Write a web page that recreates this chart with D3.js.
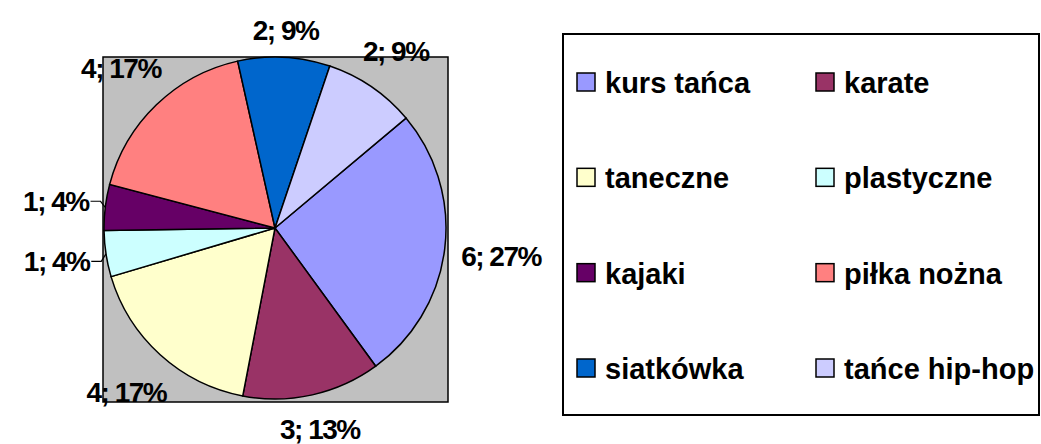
<!DOCTYPE html>
<head>
<meta charset="utf-8">
<script src="https://d3js.org/d3.v7.min.js"></script>
<style>
body { margin: 0; background: #fff; }
text { font-family: "Liberation Sans", Arial, sans-serif; font-weight: bold; fill: #000; }
.lbl { font-size: 28px; letter-spacing: -1.5px; }
.leg text { font-size: 29px; }
</style>
</head>
<body>
<script>
// chart data
var categories = ["kurs tańca", "karate", "taneczne", "plastyczne", "kajaki", "piłka nożna", "siatkówka", "tańce hip-hop"];
var values = [6, 3, 4, 1, 1, 4, 2, 2];
var percents = ["27%", "13%", "17%", "4%", "4%", "17%", "9%", "9%"];
var colors = ["#9999ff", "#993366", "#ffffcc", "#ccffff", "#660066", "#ff8080", "#0066cc", "#ccccff"];

var W = 1041, H = 444;
var svg = d3.select("body").append("svg").attr("width", W).attr("height", H);

// plot area
var cx = 275, cy = 228, r = 171;
svg.append("rect")
  .attr("x", cx - r - 1).attr("y", 57)
  .attr("width", 2 * r + 3).attr("height", 345)
  .attr("fill", "#c0c0c0").attr("stroke", "#000").attr("stroke-width", 1.5);

var data = categories.map(function(c, i){ return {name: c, value: values[i], pct: percents[i], color: colors[i]}; });

var start = 50 * Math.PI / 180;
var pie = d3.pie().sort(null).value(function(d){ return d.value; })
  .startAngle(start).endAngle(start + 2 * Math.PI);
var arcs = pie(data);

var arc = d3.arc().innerRadius(0).outerRadius(r);

var g = svg.append("g").attr("transform", "translate(" + cx + "," + cy + ")");

g.selectAll("path.slice").data(arcs).enter().append("path")
  .attr("class", "slice")
  .attr("d", arc)
  .attr("fill", function(d){ return d.data.color; })
  .attr("stroke", "#000").attr("stroke-width", 1.5);

// labels placed outside the end of each slice
var gap = 15;
var labels = g.selectAll("text.lbl").data(arcs).enter().append("text")
  .attr("class", "lbl")
  .attr("text-anchor", "middle")
  .attr("dy", "0.36em")
  .text(function(d){ return d.data.value + "; " + d.data.pct; });

labels.each(function(d){
  var b = this.getBBox();
  var m = (d.startAngle + d.endAngle) / 2;
  var ux = Math.sin(m), uy = -Math.cos(m);
  var proj = Math.abs(ux) * b.width / 2 + Math.abs(uy) * 11;
  var dist = r + gap + proj;
  d.lx = ux * dist; d.ly = uy * dist; d.w = b.width;
  d3.select(this).attr("transform", "translate(" + d.lx + "," + d.ly + ")");
});

// leader lines for thin slices
var thin = arcs.filter(function(d){ return d.endAngle - d.startAngle < 0.35; });
g.selectAll("path.leader").data(thin).enter().insert("path", "text.lbl")
  .attr("class", "leader")
  .attr("fill", "none").attr("stroke", "#000").attr("stroke-width", 1.2)
  .attr("d", function(d){
    var m = (d.startAngle + d.endAngle) / 2;
    var p = [r * Math.sin(m), -r * Math.cos(m)];
    var ex = d.lx + d.w / 2 + 1;
    return "M" + p[0] + "," + p[1] + "L" + (ex + 10) + "," + d.ly + "L" + ex + "," + d.ly;
  });

// legend
var leg = svg.append("g").attr("class", "leg");
leg.append("rect")
  .attr("x", 563).attr("y", 34).attr("width", 476).attr("height", 381)
  .attr("fill", "#fff").attr("stroke", "#000").attr("stroke-width", 2);

var colX = d3.scalePoint().domain([0, 1]).range([577, 816]);
var rowY = d3.scaleLinear().domain([0, 3]).range([82, 368]);

var item = leg.selectAll("g.item").data(data).enter().append("g")
  .attr("class", "item")
  .attr("transform", function(d, i){ return "translate(" + colX(i % 2) + "," + rowY(Math.floor(i / 2)) + ")"; });

item.append("rect")
  .attr("x", 0).attr("y", -9).attr("width", 18).attr("height", 18)
  .attr("fill", function(d){ return d.color; })
  .attr("stroke", "#000").attr("stroke-width", 1.5);

item.append("text")
  .attr("x", 28).attr("y", 11)
  .text(function(d){ return d.name; });
</script>
</body>
